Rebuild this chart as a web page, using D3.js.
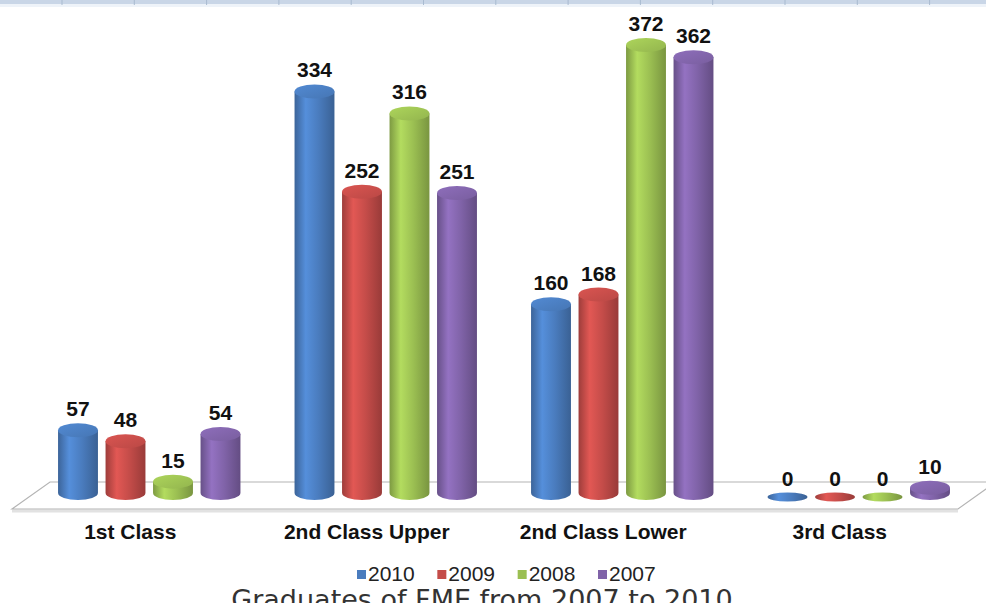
<!DOCTYPE html>
<meta charset="utf-8">
<style>
body { margin: 0; background: #fff; }
svg { display: block; }
.val { font-family: "Liberation Sans", Arial, sans-serif; font-weight: bold; font-size: 21px; fill: #111; }
.cat { font-family: "Liberation Sans", Arial, sans-serif; font-weight: bold; font-size: 21px; fill: #111; }
.leg { font-family: "Liberation Sans", Arial, sans-serif; font-size: 21px; fill: #222; }
.title { font-family: "DejaVu Sans", Verdana, sans-serif; font-size: 27px; fill: #333; }
</style>
<svg width="986" height="603" id="chart"></svg>
<script src="https://cdn.jsdelivr.net/npm/d3@7"></script>
<script>
// data
var categories = ["1st Class", "2nd Class Upper", "2nd Class Lower", "3rd Class"];
var years = ["2010", "2009", "2008", "2007"];
var v2010 = [57, 334, 160, 0];
var v2009 = [48, 252, 168, 0];
var v2008 = [15, 316, 372, 0];
var v2007 = [54, 251, 362, 10];
var colors = ["#4a7cbe", "#c44c49", "#9bbf52", "#8063a8"];
var title = "Graduates of FME from 2007 to 2010";

var series = [v2010, v2009, v2008, v2007];

var width = 986, height = 603;
var svg = d3.select("#chart");

// top strip (spreadsheet header remnant)
svg.append("rect").attr("x", 0).attr("y", 0).attr("width", width).attr("height", 4).attr("fill", "#c9d6e7");
svg.append("rect").attr("x", 0).attr("y", 4).attr("width", width).attr("height", 3).attr("fill", "#eef3f9");
svg.selectAll(".sep").data(d3.range(62, width, 72.3)).enter()
  .append("line").attr("class", "sep")
  .attr("x1", d => d).attr("x2", d => d).attr("y1", 0).attr("y2", 5)
  .attr("stroke", "#a9bbd0");

// floor
var floor = {backY: 482, frontY: 509, frontL: 12, frontR: 958, depth: 38};
svg.append("line")
  .attr("x1", floor.frontL).attr("x2", floor.frontR)
  .attr("y1", floor.frontY + 2).attr("y2", floor.frontY + 2)
  .attr("stroke", "#e2e2e2").attr("stroke-width", 3);
svg.append("path")
  .attr("d", "M" + floor.frontL + "," + floor.frontY +
    "L" + (floor.frontL + floor.depth) + "," + floor.backY +
    "L" + (floor.frontR + floor.depth) + "," + floor.backY +
    "L" + floor.frontR + "," + floor.frontY + "Z")
  .attr("fill", "#fff").attr("stroke", "#b4b4b4").attr("stroke-width", 1.2);

// scales
var xFront = d3.scaleBand().domain(categories).range([floor.frontL, floor.frontR]);
var x0 = d3.scaleBand().domain(categories).range([floor.frontL + floor.depth / 2, floor.frontR + floor.depth / 2]);
var x1 = d3.scaleBand().domain(years).range([-95, 95]).paddingInner(0.16).paddingOuter(0.08);
var y = d3.scaleLinear().domain([0, 372]).range([500, 45]);
var base = 493, rx = x1.bandwidth() / 2, ry = 7;

// gradients
var defs = svg.append("defs");
years.forEach(function(yr, i) {
  var c = d3.color(colors[i]);
  var g = defs.append("linearGradient").attr("id", "g" + i).attr("x1", 0).attr("x2", 1).attr("y1", 0).attr("y2", 0);
  g.append("stop").attr("offset", "0%").attr("stop-color", c.darker(0.6));
  g.append("stop").attr("offset", "28%").attr("stop-color", c.brighter(0.4));
  g.append("stop").attr("offset", "60%").attr("stop-color", c);
  g.append("stop").attr("offset", "100%").attr("stop-color", c.darker(0.7));
  var t = defs.append("linearGradient").attr("id", "t" + i).attr("x1", 0).attr("x2", 1).attr("y1", 0).attr("y2", 1);
  t.append("stop").attr("offset", "0%").attr("stop-color", c.brighter(0.3));
  t.append("stop").attr("offset", "100%").attr("stop-color", c.darker(0.15));
});

var bars = [];
categories.forEach(function(cat, ci) {
  years.forEach(function(yr, si) {
    bars.push({cat: cat, year: yr, si: si, value: series[si][ci]});
  });
});

var g = svg.append("g");
var cyl = g.selectAll(".cyl").data(bars).enter().append("g").attr("class", "cyl")
  .attr("transform", d => "translate(" + (x0(d.cat) + x0.bandwidth() / 2 + x1(d.year) + rx) + ",0)");

cyl.each(function(d) {
  var sel = d3.select(this);
  var top = Math.min(y(d.value), base);
  if (d.value > 0) {
    sel.append("path")
      .attr("d", "M" + (-rx) + "," + top + "L" + (-rx) + "," + base +
        "A" + rx + "," + ry + " 0 0 0 " + rx + "," + base +
        "L" + rx + "," + top + "Z")
      .attr("fill", "url(#g" + d.si + ")");
    sel.append("ellipse").attr("cx", 0).attr("cy", top).attr("rx", rx).attr("ry", ry)
      .attr("fill", "url(#t" + d.si + ")");
  } else {
    sel.append("ellipse").attr("cx", 0).attr("cy", base + 4).attr("rx", rx).attr("ry", 4.5)
      .attr("fill", "url(#g" + d.si + ")");
  }
  sel.append("text").attr("class", "val")
    .attr("x", 0).attr("y", y(d.value) - 14)
    .attr("text-anchor", "middle")
    .text(d.value);
});

// category labels
svg.selectAll(".cat").data(categories).enter().append("text").attr("class", "cat")
  .attr("x", d => xFront(d) + xFront.bandwidth() / 2).attr("y", 539)
  .attr("text-anchor", "middle").text(d => d);

// legend
var lx = d3.scalePoint().domain(years).range([357, 598]);
var leg = svg.selectAll(".legi").data(years).enter().append("g").attr("class", "legi")
  .attr("transform", d => "translate(" + lx(d) + ",570)");
leg.append("rect").attr("width", 9).attr("height", 9).attr("fill", (d, i) => colors[i]);
leg.append("text").attr("class", "leg").attr("x", 11).attr("y", 11).text(d => d);

// title (cut off at the bottom edge, as in the source image)
svg.append("text").attr("class", "title")
  .attr("x", 482).attr("y", 609).attr("text-anchor", "middle").text(title);
</script>
